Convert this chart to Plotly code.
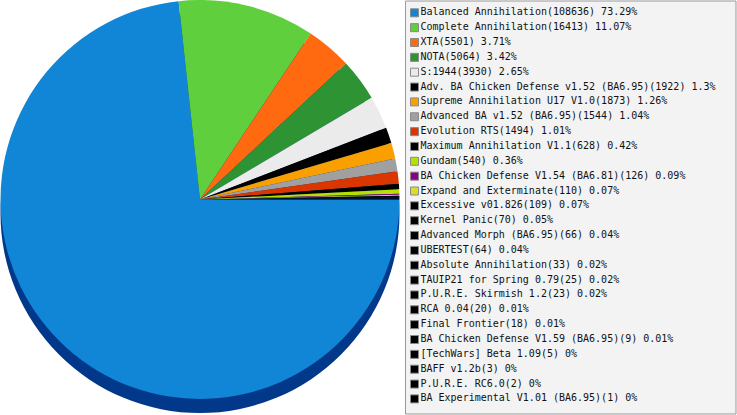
import plotly.graph_objects as go

# game mods and how many games were played with each
mods = [
    "Balanced Annihilation", "Complete Annihilation", "XTA", "NOTA", "S:1944",
    "Adv. BA Chicken Defense v1.52 (BA6.95)", "Supreme Annihilation U17 V1.0",
    "Advanced BA v1.52 (BA6.95)", "Evolution RTS", "Maximum Annihilation V1.1",
    "Gundam", "BA Chicken Defense V1.54 (BA6.81)", "Expand and Exterminate",
    "Excessive v01.826", "Kernel Panic", "Advanced Morph (BA6.95)", "UBERTEST",
    "Absolute Annihilation", "TAUIP21 for Spring 0.79", "P.U.R.E. Skirmish 1.2",
    "RCA 0.04", "Final Frontier", "BA Chicken Defense V1.59 (BA6.95)",
    "[TechWars] Beta 1.09", "BAFF v1.2b", "P.U.R.E. RC6.0",
    "BA Experimental V1.01 (BA6.95)",
]
games = [
    108636, 16413, 5501, 5064, 3930, 1922, 1873, 1544, 1494, 628, 540, 126, 110,
    109, 70, 66, 64, 33, 25, 23, 20, 18, 9, 5, 3, 2, 1,
]
colors = [
    "#1185d6", "#5fcf3d", "#ff6a10", "#2e9433", "#ebebeb", "#000000", "#f9a000",
    "#a0a0a0", "#db3500", "#000000", "#b6e000", "#8b008b", "#d9dc2a",
] + ["#000000"] * 14

total = sum(games)
labels = [
    f"{m}({g}) {round(g / total * 100, 2):g}%" for m, g in zip(mods, games)
]

W, H = 737, 415
fig = go.Figure()

# dark "side" of the pie, a bit lower than the top face
fig.add_trace(go.Pie(
    values=[1],
    marker=dict(colors=["#02388a"], line=dict(width=0)),
    domain=dict(x=[0, 400 / W], y=[(H - 413) / H, (H - 14) / H]),
    textinfo="none", hoverinfo="skip", showlegend=False, sort=False,
))

fig.add_trace(go.Pie(
    values=games,
    labels=labels,
    marker=dict(colors=colors, line=dict(width=0)),
    domain=dict(x=[0, 400 / W], y=[(H - 399) / H, 1]),
    direction="clockwise", rotation=90, sort=False,
    textinfo="none", showlegend=False,
))

# legend drawn by hand so the rows fit
rows = list(range(len(labels)))
fig.add_trace(go.Scatter(
    x=[414.5] * len(labels),
    y=[-r for r in rows],
    mode="markers+text",
    marker=dict(symbol="square", size=8, color=colors,
                line=dict(width=1, color="#8a8a8a")),
    text=labels,
    textposition="middle right",
    textfont=dict(family="DejaVu Sans Mono", size=10, color="#111111"),
    hoverinfo="skip", showlegend=False, cliponaxis=False,
))

step = 14.85
top = 12.8
fig.update_layout(
    width=W, height=H,
    margin=dict(l=0, r=0, t=0, b=0),
    paper_bgcolor="white", plot_bgcolor="rgba(0,0,0,0)",
    xaxis=dict(range=[0, W], domain=[0, 1], visible=False),
    yaxis=dict(range=[-(H - top) / step, top / step], domain=[0, 1], visible=False),
    shapes=[dict(
        type="rect", xref="paper", yref="paper", layer="below",
        x0=405.5 / W, x1=736 / W, y0=(H - 414) / H, y1=(H - 1) / H,
        fillcolor="#f3f3f3", line=dict(color="#999999", width=1),
    )],
)

# page body has a default 8px margin, drop it so the chart sits at 0,0
fig.write_html(
    "out.html",
    config={"displayModeBar": False},
    post_script="document.body.style.margin='0';",
)
